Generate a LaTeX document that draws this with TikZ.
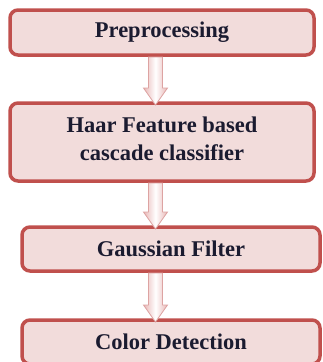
\documentclass[tikz,border=0pt]{standalone}
\usepackage{fontspec}
\setmainfont{Liberation Serif}
\usetikzlibrary{calc}
\definecolor{boxfill}{HTML}{F2DCDB}
\definecolor{boxline}{HTML}{C0504D}
\definecolor{arrowline}{HTML}{DDA3A2}
\definecolor{arrowpink}{HTML}{E8B7B6}
\definecolor{textdark}{HTML}{1B1B30}

% block arrow from the bottom of one stage to the top of the next,
% running down the column marked by the coordinate (col)
\newcommand\stagearrow[2]{%
  \path[blockarrow]
    ($(#1.south -| col)+(-7,-2)$) -- ($(#2.north -| col)+(-7,15)$)
    -- ($(#2.north -| col)+(-12,15)$) -- ($(#2.north -| col)+(0,-2)$)
    -- ($(#2.north -| col)+(12,15)$) -- ($(#2.north -| col)+(7,15)$)
    -- ($(#1.south -| col)+(7,-2)$) -- cycle;}

\begin{document}
\begin{tikzpicture}[x=1pt,y=1pt,
  stage/.style={draw=boxline, line width=3.5pt, fill=boxfill,
    rounded corners=8pt, outer sep=0pt, inner sep=0pt, align=center,
    text=textdark, font=\fontsize{22.5}{28}\selectfont\bfseries},
  blockarrow/.style={draw=arrowline, line width=0.8pt,
    left color=arrowpink, right color=arrowpink, middle color=white}]
\useasboundingbox (0,0) rectangle (322,-362);
\clip (0,0) rectangle (322,-362);

\coordinate (col) at (155.5,0);

\node[stage, minimum width=304pt, minimum height=45pt] (pre) at (162,-32.5) {Preprocessing};
\node[stage, minimum width=304pt, minimum height=78pt, text depth=6pt] (haar) at (162,-142)
  {Haar Feature based\\cascade classifier};
\node[stage, minimum width=298pt, minimum height=44pt] (gauss) at (171,-249) {Gaussian Filter};
\node[stage, minimum width=298pt, minimum height=44pt] (color) at (171,-342) {Color Detection};

\stagearrow{pre}{haar}
\stagearrow{haar}{gauss}
\stagearrow{gauss}{color}
\end{tikzpicture}
\end{document}
